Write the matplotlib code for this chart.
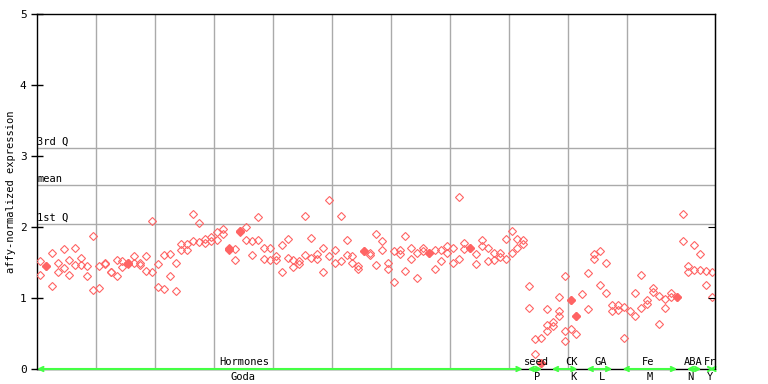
import matplotlib
matplotlib.use("Agg")
import matplotlib.pyplot as plt

# expression values per sample column (0..114)
expr = [
    [1.52, 1.32], [1.455], [1.63, 1.165], [1.49, 1.36], [1.69, 1.42],
    [1.535, 1.33], [1.71, 1.46], [1.56, 1.46], [1.45, 1.305], [1.88, 1.11],
    [1.45, 1.14], [1.475, 1.49], [1.37, 1.36], [1.53, 1.305], [1.52, 1.43],
    [1.50, 1.475], [1.59, 1.50], [1.49, 1.46], [1.59, 1.38], [2.08, 1.36],
    [1.475, 1.155], [1.60, 1.13], [1.615, 1.305], [1.49, 1.095], [1.755, 1.675],
    [1.755, 1.67], [2.19, 1.80], [2.05, 1.785], [1.83, 1.77], [1.855, 1.80],
    [1.925, 1.81], [1.965, 1.895], [1.70, 1.67], [1.685, 1.53], [1.95, 1.925],
    [1.995, 1.81], [1.80, 1.60], [2.135, 1.81], [1.71, 1.545], [1.71, 1.53],
    [1.59, 1.53], [1.74, 1.36], [1.83, 1.57], [1.53, 1.43], [1.515, 1.475],
    [2.15, 1.60], [1.84, 1.56], [1.615, 1.545], [1.71, 1.36], [2.375, 1.585],
    [1.67, 1.50], [2.15, 1.515], [1.81, 1.60], [1.585, 1.49], [1.445, 1.405],
    [1.655], [1.63, 1.60], [1.90, 1.46], [1.80, 1.67], [1.49, 1.41],
    [1.655, 1.22], [1.67, 1.615], [1.88, 1.375], [1.71, 1.545], [1.64, 1.275],
    [1.71, 1.655], [1.64], [1.67, 1.405], [1.67, 1.515], [1.73, 1.63],
    [1.71, 1.50], [2.42, 1.545], [1.77, 1.685], [1.71], [1.615, 1.475],
    [1.81, 1.73], [1.70, 1.515], [1.64, 1.53], [1.64, 1.575], [1.83, 1.545],
    [1.95, 1.63], [1.83, 1.70], [1.81, 1.755], [1.165, 0.86], [0.42, 0.21],
    [0.43, 0.085], [0.84, 0.615, 0.53], [0.66, 0.60], [1.01, 0.81, 0.74], [1.305, 0.53, 0.39],
    [0.975, 0.56], [0.74, 0.50], [1.05], [1.35, 0.84], [1.615, 1.545],
    [1.66, 1.19], [1.49, 1.065], [0.90, 0.81], [0.90, 0.83], [0.87, 0.43],
    [0.81], [1.065, 0.74], [1.33, 0.855], [0.97, 0.91], [1.135, 1.08],
    [1.025, 0.64], [0.98, 0.855], [1.065, 1.01], [1.01], [2.19, 1.80],
    [1.445, 1.36], [1.74, 1.40], [1.615, 1.40], [1.375, 1.19], [1.36, 1.02],
]

# columns where replicates overlap (drawn as solid diamonds)
overlap_cols = [1, 15, 32, 34, 55, 66, 73, 85, 90, 91, 108]
overlap_vals = [1.455, 1.49, 1.69, 1.94, 1.655, 1.64, 1.71, 0.085, 0.975, 0.74, 1.01]

q1, q_mean, q3 = 2.04, 2.59, 3.11

# experiment groups: name, source, first column, last column
group_names = ["Hormones", "seed", "CK", "GA", "Fe", "ABA", "Fr"]
group_codes = ["Goda", "P", "K", "L", "M", "N", "Y"]
group_start = [-0.5, 82.7, 86.8, 92.7, 98.8, 109.7, 113.5]
group_end = [81.9, 85.2, 91.2, 97.1, 108.1, 112.2, 114.4]
name_pos = [34.7, 84.2, 90.2, 95.1, 103.1, 110.8, 113.7]
code_pos = [34.4, 84.4, 90.5, 95.4, 103.4, 110.3, 113.6]

red = "#ff6464"
grid_c = "#aaaaaa"
green = "#44ff44"
mono = "DejaVu Sans Mono"

fig = plt.figure(figsize=(7.68, 3.84), dpi=100)
ax = fig.add_axes([37 / 768, 15 / 384, 678 / 768, 355 / 384])

xs, ys = [], []
for i, vals in enumerate(expr):
    for v in vals:
        xs.append(i)
        ys.append(v)

for g in range(10):
    ax.axvline(9.5 + 10 * g, color=grid_c, lw=1, zorder=1)
for q in (q1, q_mean, q3):
    ax.axhline(q, color=grid_c, lw=1, zorder=1)

ax.plot(xs, ys, ls="none", marker="D", ms=3.6, mfc="none", mec=red, mew=0.8, zorder=3)
ax.plot(overlap_cols, overlap_vals, ls="none", marker="D", ms=3.6, mfc=red, mec=red, zorder=3)

ax.text(-0.5, q3 + 0.02, "3rd Q", fontsize=7.5, family=mono, va="bottom")
ax.text(-0.5, q_mean + 0.02, "mean", fontsize=7.5, family=mono, va="bottom")
ax.text(-0.5, q1 + 0.02, "1st Q", fontsize=7.5, family=mono, va="bottom")

# group arrows along the x axis
for s, e in zip(group_start, group_end):
    ax.annotate("", xy=(e, 0), xytext=(s, 0),
                arrowprops=dict(arrowstyle="<->,head_length=0.3,head_width=0.15",
                                color=green, lw=1.5, shrinkA=0, shrinkB=0),
                annotation_clip=False, zorder=5)
for n, p in zip(group_names, name_pos):
    ax.text(p, 0.03, n, ha="center", va="bottom", fontsize=7.5, family=mono)
for c, p in zip(group_codes, code_pos):
    ax.text(p, -0.04, c, ha="center", va="top", fontsize=7.5, family=mono,
            clip_on=False)

ax.set_xlim(-0.5, 114.5)
ax.set_ylim(0, 5)
ax.set_xticks([])
ax.set_yticks([0, 1, 2, 3, 4, 5])
ax.tick_params(axis="y", direction="inout", length=9, width=1, labelsize=8, pad=3)
for lab in ax.get_yticklabels():
    lab.set_family(mono)
ax.set_ylabel("affy-normalized expression", fontsize=7.5, family=mono, labelpad=3)

ax2 = ax.twinx()
ax2.set_ylim(0, 5)
ax2.set_yticks([1, 2])
ax2.tick_params(axis="y", direction="in", length=5, labelright=False)
for sp in ("top", "bottom", "left"):
    ax2.spines[sp].set_visible(False)

for sp in ax.spines.values():
    sp.set_color("black")
    sp.set_linewidth(1)

fig.savefig("out.png", dpi=100)
